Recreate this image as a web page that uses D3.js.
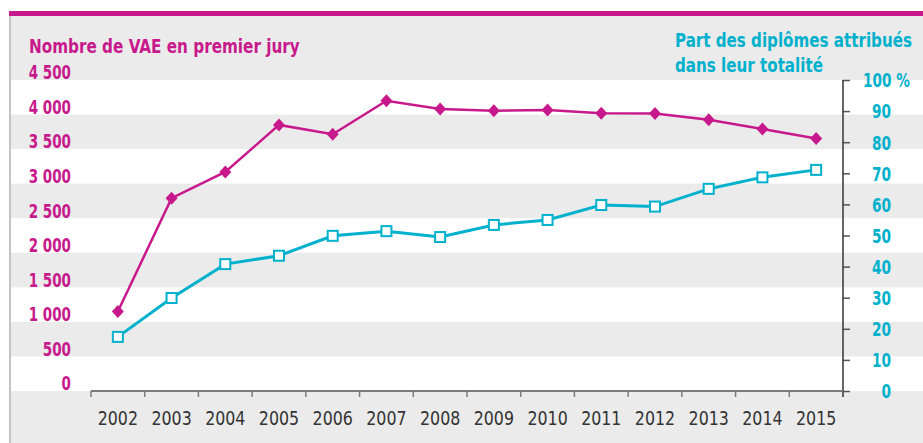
<!DOCTYPE html>
<html>
<head>
<meta charset="utf-8">
<script src="https://cdn.jsdelivr.net/npm/d3@7"></script>
<style>
  body { margin: 0; background: #fff; }
  svg { display: block; }
  text { font-family: "Liberation Sans Narrow", "DejaVu Sans Condensed", "Arial Narrow", sans-serif; }
</style>
</head>
<body>
<svg id="chart" width="923" height="443"></svg>
<script>
// --- Data ---
const years = ["2002","2003","2004","2005","2006","2007","2008","2009","2010","2011","2012","2013","2014","2015"];
const vaeJury = [1150, 2790, 3170, 3850, 3715, 4200, 4080, 4055, 4065, 4020, 4015, 3925, 3790, 3655];
const partTotal = [17.4, 29.9, 40.8, 43.5, 49.9, 51.4, 49.5, 53.4, 55.0, 59.8, 59.3, 65.0, 68.7, 71.1];
const leftTicks = [0, 500, 1000, 1500, 2000, 2500, 3000, 3500, 4000, 4500];
const rightTicks = [0, 10, 20, 30, 40, 50, 60, 70, 80, 90, 100];

const MAGENTA = "#c8198c";
const CYAN = "#00b1cd";
const STRIPE = "#ebebeb";

// --- Setup ---
const svg = d3.select("#chart");
const W = 923, H = 443;
const x0 = 91, x1 = 843, yBase = 391, yTop = 80;

const xBand = d3.scaleBand().domain(years).range([x0, x1]).paddingInner(0).paddingOuter(0);
const yLeft = d3.scaleLinear().domain([0, 4500]).range([yBase, yTop]);
const yRight = d3.scaleLinear().domain([0, 100]).range([yBase, yTop]);
const fmt = v => d3.format(",")(v).replace(/,/g, " ");

// condensed look: squeeze the installed font horizontally (via transform)
function squeeze(sel, k) {
  sel.each(function () {
    const t = d3.select(this);
    const x = +t.attr("x") || 0;
    t.attr("x", 0).attr("transform", `translate(${x},0) scale(${k},1)`);
  });
}
// fit a bold title line to a target width
function fitText(x, y, str, width, color) {
  const t = svg.append("text").attr("x", 0).attr("y", 0)
    .attr("font-size", 20).attr("font-weight", "bold").attr("fill", color)
    .text(str);
  const k = width / t.node().getComputedTextLength();
  t.attr("transform", `translate(${x},${y}) scale(${k},1)`);
  return t;
}

// background stripes
svg.append("rect").attr("x", 9).attr("y", 16).attr("width", W - 9).attr("height", yTop - 16).attr("fill", STRIPE);
svg.append("rect").attr("x", 9).attr("y", yBase).attr("width", W - 9).attr("height", H - yBase).attr("fill", STRIPE);
svg.selectAll(".stripe")
  .data(leftTicks.slice(0, -1).filter((d, i) => i % 2 === 1))
  .enter().append("rect")
  .attr("class", "stripe")
  .attr("x", 9)
  .attr("y", d => yLeft(d + 500))
  .attr("width", W - 9)
  .attr("height", d => yLeft(d) - yLeft(d + 500))
  .attr("fill", STRIPE);

// frame: top bar and left rule
svg.append("rect").attr("x", 9).attr("y", 11).attr("width", W - 9).attr("height", 5).attr("fill", MAGENTA);
svg.append("rect").attr("x", 9).attr("y", 16).attr("width", 2).attr("height", H - 16).attr("fill", "#c4c4c4");

// titles
fitText(29, 53, "Nombre de VAE en premier jury", 271, MAGENTA);
fitText(675, 47, "Part des diplômes attribués", 237, CYAN);
fitText(675, 72, "dans leur totalité", 148, CYAN);

// left axis (labels only)
const gl = svg.append("g").attr("transform", "translate(71,0)")
  .call(d3.axisLeft(yLeft).tickValues(leftTicks).tickSize(0).tickPadding(0).tickFormat(fmt));
gl.attr("font-family", null);
gl.select(".domain").remove();
gl.selectAll("text")
  .attr("dy", "-0.06em")
  .attr("font-size", 20).attr("font-weight", "bold").attr("fill", MAGENTA);
squeeze(gl.selectAll("text"), 0.75);

// right axis
const gr = svg.append("g").attr("transform", `translate(${x1},0)`)
  .call(d3.axisRight(yRight).tickValues(rightTicks).tickSize(7).tickFormat(d => d === 100 ? "100\u00a0%" : d));
gr.attr("font-family", null);
gr.select(".domain").remove();
gr.append("line").attr("x1", 0).attr("x2", 0).attr("y1", yTop).attr("y2", yBase + 6)
  .attr("stroke", "#333").attr("stroke-width", 1.5);
gr.selectAll(".tick line").attr("stroke", "#555").attr("stroke-width", 1.5);
gr.selectAll(".tick text")
  .attr("x", d => d === 100 ? 20 : 48)
  .attr("text-anchor", d => d === 100 ? "start" : "end")
  .attr("dy", "0.34em")
  .attr("font-size", 20).attr("font-weight", "bold").attr("fill", CYAN);
squeeze(gr.selectAll(".tick text"), 0.76);

// x axis
const gx = svg.append("g").attr("transform", `translate(0,${yBase})`);
gx.append("line").attr("x1", x0).attr("x2", x1).attr("y1", 0).attr("y2", 0)
  .attr("stroke", "#7a7a7a").attr("stroke-width", 2);
gx.selectAll(".xtick")
  .data(years.map(y => xBand(y)))
  .enter().append("line")
  .attr("x1", d => d).attr("x2", d => d).attr("y1", 0).attr("y2", 6)
  .attr("stroke", "#7a7a7a").attr("stroke-width", 1.5);
const xl = gx.selectAll(".xlabel")
  .data(years)
  .enter().append("text")
  .attr("x", d => xBand(d) + xBand.bandwidth() / 2)
  .attr("y", 34)
  .attr("text-anchor", "middle")
  .attr("font-size", 20).attr("fill", "#333")
  .text(d => d);
squeeze(xl, 0.88);

const cx = d => xBand(d) + xBand.bandwidth() / 2;

// magenta series
svg.append("path")
  .datum(years.map((y, i) => [cx(y), yLeft(vaeJury[i])]))
  .attr("fill", "none").attr("stroke", MAGENTA).attr("stroke-width", 2.5)
  .attr("d", d3.line());
svg.selectAll(".diamond")
  .data(years.map((y, i) => ({ y, v: vaeJury[i] })))
  .enter().append("path")
  .attr("class", "diamond")
  .attr("transform", d => `translate(${cx(d.y)},${yLeft(d.v)})`)
  .attr("d", "M0,-6.5L6,0L0,6.5L-6,0Z")
  .attr("fill", MAGENTA);

// cyan series
svg.append("path")
  .datum(years.map((y, i) => [cx(y), yRight(partTotal[i])]))
  .attr("fill", "none").attr("stroke", CYAN).attr("stroke-width", 3)
  .attr("d", d3.line());
svg.selectAll(".square")
  .data(years.map((y, i) => ({ y, v: partTotal[i] })))
  .enter().append("rect")
  .attr("class", "square")
  .attr("x", d => cx(d.y) - 5).attr("y", d => yRight(d.v) - 5)
  .attr("width", 10).attr("height", 10)
  .attr("fill", "#fff").attr("stroke", CYAN).attr("stroke-width", 2);
</script>
</body>
</html>
